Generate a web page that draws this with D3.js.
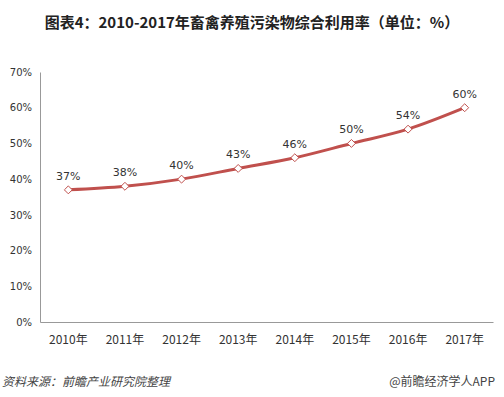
<!DOCTYPE html>
<html>
<head>
<meta charset="utf-8">
<script src="https://d3js.org/d3.v7.min.js"></script>
<style>
  body { margin: 0; background: #fff; }
  svg { display: block; }
</style>
</head>
<body>
<div id="chart"></div>
<script>
// chart data
const years = ['2010年', '2011年', '2012年', '2013年', '2014年', '2015年', '2016年', '2017年'];
const rates = [37, 38, 40, 43, 46, 50, 54, 60];
const yTicks = [0, 10, 20, 30, 40, 50, 60, 70];

const width = 504, height = 397;
const margin = { top: 72, right: 11, bottom: 75, left: 40 };
const lineColor = '#C0504D';
const numFont = '"DejaVu Sans", Verdana, sans-serif';
const cjkFont = '"Noto Sans CJK SC", "Noto Sans", sans-serif';

const svg = d3.select('#chart').append('svg')
    .attr('width', width)
    .attr('height', height)
    .attr('viewBox', `0 0 ${width} ${height}`);

// title
svg.append('text')
    .attr('x', width / 2)
    .attr('y', 28)
    .attr('text-anchor', 'middle')
    .style('font-family', cjkFont)
    .style('font-size', '15px')
    .style('font-weight', 'bold')
    .style('fill', '#222')
    .text('图表4：2010-2017年畜禽养殖污染物综合利用率（单位：%）');

const x = d3.scaleBand()
    .domain(years)
    .range([margin.left, width - margin.right]);

const y = d3.scaleLinear()
    .domain([0, 70])
    .range([height - margin.bottom, margin.top]);

// y axis
const yAxis = svg.append('g')
    .attr('transform', `translate(${margin.left},0)`)
    .call(d3.axisLeft(y).tickValues(yTicks).tickSize(0).tickPadding(8).tickFormat(d => d + '%'));
yAxis.select('.domain').attr('stroke', '#999');
yAxis.selectAll('text')
    .style('font-family', numFont)
    .style('font-size', '10px')
    .style('fill', '#333');

// x axis
const xAxis = svg.append('g')
    .attr('transform', `translate(0,${height - margin.bottom})`)
    .call(d3.axisBottom(x).tickSize(0).tickPadding(13));
xAxis.select('.domain').attr('stroke', '#999');
xAxis.selectAll('text')
    .style('font-family', cjkFont)
    .style('font-size', '12px')
    .style('fill', '#333');

const cx = d => x(d) + x.bandwidth() / 2;
const pts = years.map((yr, i) => ({ yr, v: rates[i] }));

// line
svg.append('path')
    .datum(pts)
    .attr('fill', 'none')
    .attr('stroke', lineColor)
    .attr('stroke-width', 3)
    .attr('d', d3.line().x(d => cx(d.yr)).y(d => y(d.v)).curve(d3.curveMonotoneX));

// diamond markers
svg.selectAll('.marker')
    .data(pts)
    .enter().append('path')
    .attr('class', 'marker')
    .attr('transform', d => `translate(${cx(d.yr)},${y(d.v)})`)
    .attr('d', d3.symbol().type(d3.symbolDiamond2).size(40))
    .attr('fill', '#fff')
    .attr('stroke', lineColor)
    .attr('stroke-width', 1);

// value labels
svg.selectAll('.vlabel')
    .data(pts)
    .enter().append('text')
    .attr('class', 'vlabel')
    .attr('x', d => cx(d.yr))
    .attr('y', d => y(d.v) - 10)
    .attr('text-anchor', 'middle')
    .style('font-family', numFont)
    .style('font-size', '11px')
    .style('fill', '#333')
    .text(d => d.v + '%');

// footer
svg.append('text')
    .attr('x', 2)
    .attr('y', 386)
    .style('font-family', cjkFont)
    .style('font-size', '12px')
    .style('font-style', 'italic')
    .style('fill', '#444')
    .text('资料来源：前瞻产业研究院整理');

svg.append('text')
    .attr('x', width - 9)
    .attr('y', 386)
    .attr('text-anchor', 'end')
    .style('font-family', cjkFont)
    .style('font-size', '12px')
    .style('fill', '#444')
    .text('@前瞻经济学人APP');
</script>
</body>
</html>
